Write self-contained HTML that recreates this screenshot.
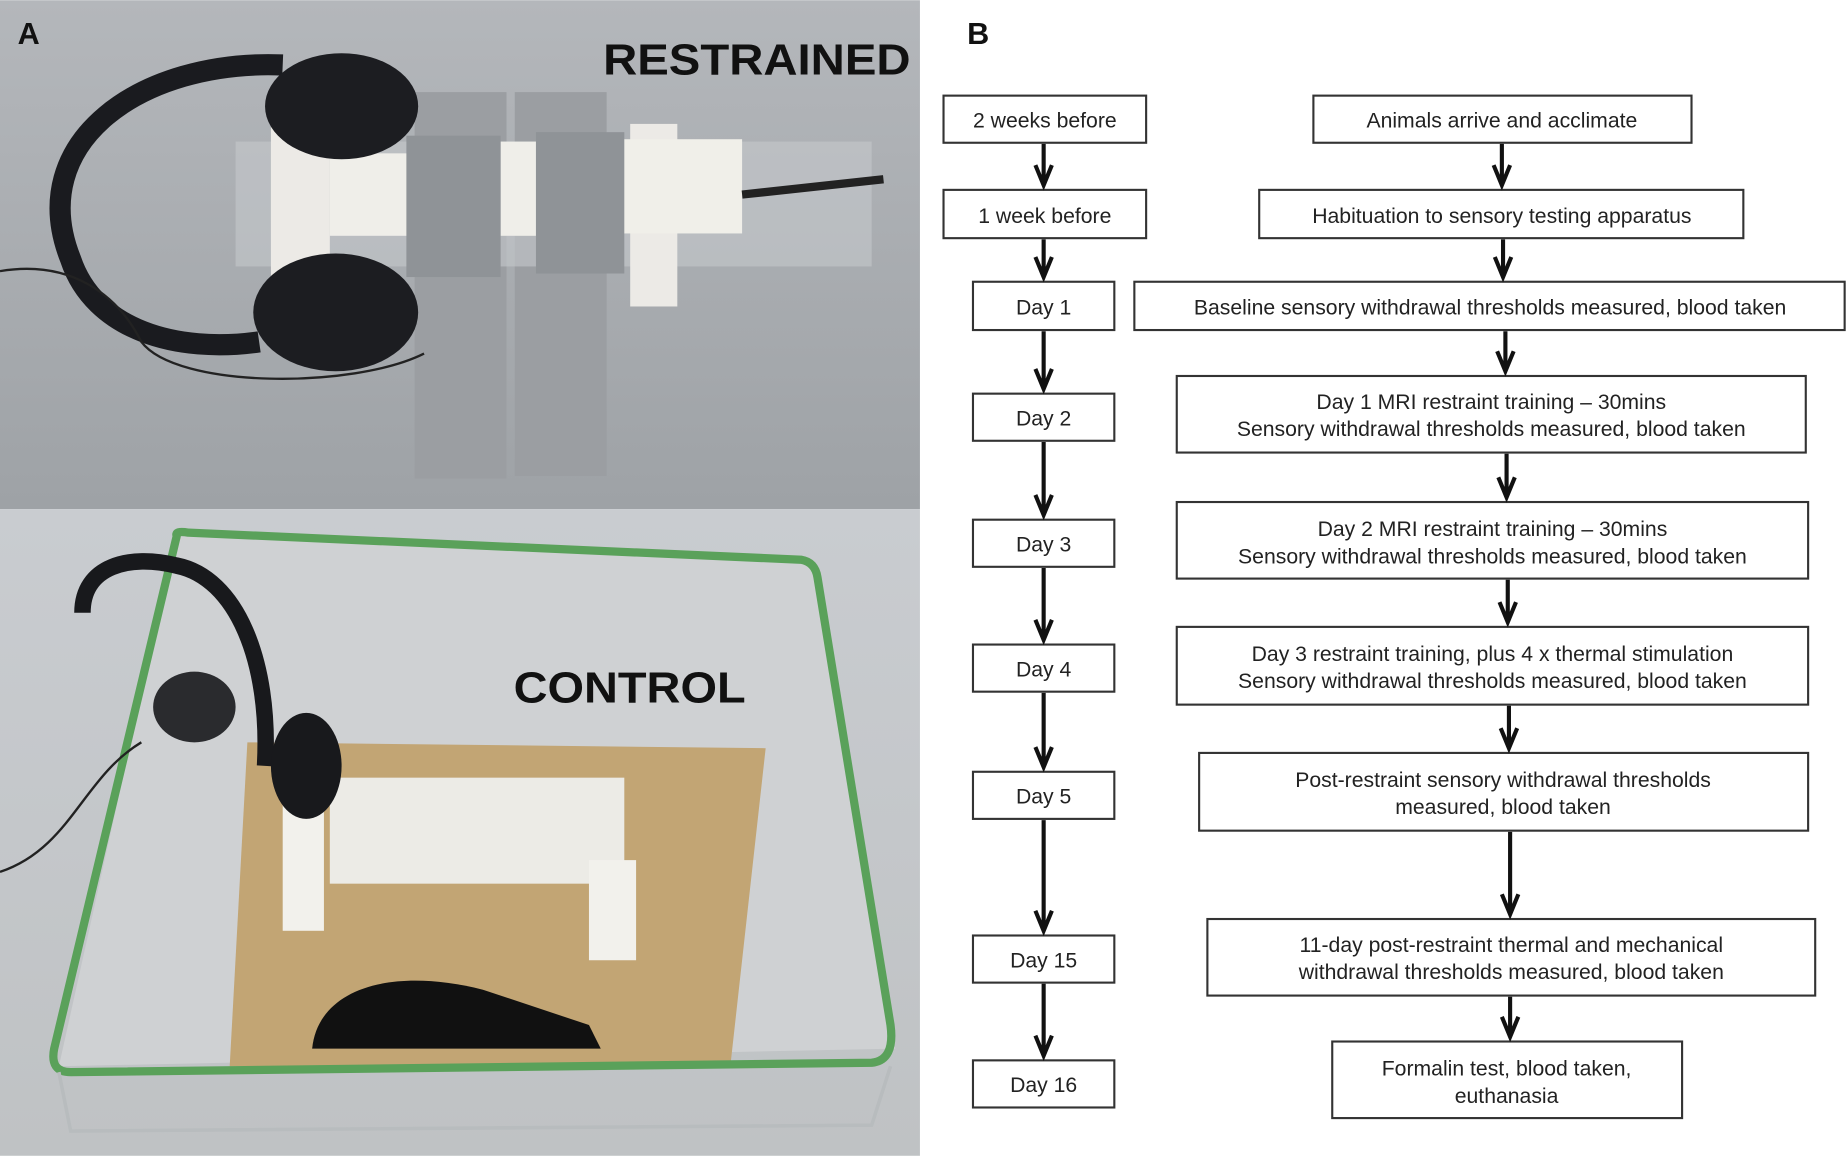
<!DOCTYPE html>
<html><head><meta charset="utf-8"><style>
html,body{margin:0;padding:0;background:#fff}
svg{display:block}
text{font-family:"Liberation Sans",Arial,sans-serif}
</style></head><body>
<svg width="1847" height="1156" viewBox="0 0 1568 981" xmlns="http://www.w3.org/2000/svg">
<defs>
<linearGradient id="g1" x1="0" y1="0" x2="0" y2="1"><stop offset="0" stop-color="#b4b7bb"/><stop offset="1" stop-color="#9ea2a6"/></linearGradient>
<linearGradient id="g2" x1="0" y1="0" x2="0" y2="1"><stop offset="0" stop-color="#c9ccd0"/><stop offset="1" stop-color="#bfc2c4"/></linearGradient>
</defs>
<!-- Photo A top -->
<rect x="0" y="0" width="781" height="432" fill="url(#g1)"/>
<rect x="352" y="78" width="78" height="328" fill="#9b9ea2"/>
<rect x="437" y="78" width="78" height="326" fill="#9b9ea2"/>
<rect x="200" y="120" width="540" height="106" fill="#c4c8cc" opacity="0.6"/>
<rect x="230" y="100" width="50" height="160" fill="#eceae6"/>
<rect x="535" y="105" width="40" height="155" fill="#eceae6"/>
<rect x="280" y="130" width="70" height="70" fill="#efeee9"/>
<rect x="425" y="120" width="30" height="80" fill="#efeee9"/>
<rect x="520" y="118" width="110" height="80" fill="#f0efe9"/>
<rect x="345" y="115" width="80" height="120" fill="#8f9397"/>
<rect x="455" y="112" width="75" height="120" fill="#8f9397"/>
<path d="M630,165 L750,152" stroke="#222" stroke-width="7"/>
<path d="M240,55 C120,50 20,120 60,220 C80,280 150,300 220,290" fill="none" stroke="#1a1b1f" stroke-width="18"/>
<ellipse cx="290" cy="90" rx="65" ry="45" fill="#1c1d21"/>
<ellipse cx="285" cy="265" rx="70" ry="50" fill="#1c1d21"/>
<path d="M0,230 C60,220 100,250 120,290 C150,330 300,330 360,300" fill="none" stroke="#222" stroke-width="2"/>
<text x="15" y="37" font-size="26" font-weight="bold" fill="#111">A</text>
<text x="512" y="63" font-size="37" font-weight="bold" fill="#111" textLength="261" lengthAdjust="spacingAndGlyphs">RESTRAINED</text>
<!-- Photo A bottom -->
<rect x="0" y="432" width="781" height="549" fill="url(#g2)"/>
<path d="M150,455 L690,478 L760,890 L50,905 Z" fill="#cfd1d3"/>
<path d="M210,630 L650,635 L620,905 L195,905 Z" fill="#c2a574"/>
<path d="M265,890 C270,840 330,820 410,840 L500,870 L510,890 Z" fill="#111"/>
<rect x="280" y="660" width="250" height="90" fill="#ecebe6"/>
<rect x="240" y="660" width="35" height="130" fill="#f2f1ec"/>
<rect x="500" y="730" width="40" height="85" fill="#f2f1ec"/>
<path d="M150,455 Q148,450 160,452 L680,475 Q692,477 694,490 L756,870 Q760,900 740,902 L60,910 Q42,910 46,890 Z" fill="none" stroke="#5aa15a" stroke-width="7"/>
<path d="M50,910 L60,960 L740,955 L756,905" fill="none" stroke="#b8bcbe" stroke-width="3"/>
<path d="M70,520 C70,480 110,470 150,480 C200,490 230,560 225,650" fill="none" stroke="#18191c" stroke-width="14"/>
<ellipse cx="260" cy="650" rx="30" ry="45" fill="#18191c"/>
<ellipse cx="165" cy="600" rx="35" ry="30" fill="#2a2b2e"/>
<path d="M0,740 C60,720 70,660 120,630" fill="none" stroke="#222" stroke-width="2"/>
<text x="436" y="596" font-size="37" font-weight="bold" fill="#111" textLength="197" lengthAdjust="spacingAndGlyphs">CONTROL</text>
<rect x="781" y="0" width="787" height="981" fill="#fff"/>
<!-- Panel B -->
<text x="821" y="37" font-size="26" font-weight="bold" fill="#111">B</text>
<g fill="#fff" stroke="#333" stroke-width="1.8">
<rect x="801" y="81" width="172" height="40"/>
<rect x="801" y="161" width="172" height="41"/>
<rect x="826" y="239" width="120" height="41"/>
<rect x="826" y="334" width="120" height="40"/>
<rect x="826" y="441" width="120" height="40"/>
<rect x="826" y="547" width="120" height="40"/>
<rect x="826" y="655" width="120" height="40"/>
<rect x="826" y="794" width="120" height="40"/>
<rect x="826" y="900" width="120" height="40"/>
<rect x="1115" y="81" width="321" height="40"/>
<rect x="1069" y="161" width="411" height="41"/>
<rect x="963" y="239" width="603" height="41"/>
<rect x="999" y="319" width="534" height="65"/>
<rect x="999" y="426" width="536" height="65"/>
<rect x="999" y="532" width="536" height="66"/>
<rect x="1018" y="639" width="517" height="66"/>
<rect x="1025" y="780" width="516" height="65"/>
<rect x="1131" y="884" width="297" height="65"/>
</g>
<g stroke="#111" stroke-width="3.5" fill="none" stroke-linejoin="miter">
<path d="M886,122 V157 M879,140 L886,157 L893,140"/>
<path d="M886,203 V235 M879,218 L886,235 L893,218"/>
<path d="M886,281 V330 M879,313 L886,330 L893,313"/>
<path d="M886,375 V437 M879,420 L886,437 L893,420"/>
<path d="M886,482 V543 M879,526 L886,543 L893,526"/>
<path d="M886,588 V651 M879,634 L886,651 L893,634"/>
<path d="M886,696 V790 M879,773 L886,790 L893,773"/>
<path d="M886,835 V896 M879,879 L886,896 L893,879"/>
<path d="M1275,122 V157 M1268,140 L1275,157 L1282,140"/>
<path d="M1276,203 V235 M1269,218 L1276,235 L1283,218"/>
<path d="M1278,281 V315 M1271,298 L1278,315 L1285,298"/>
<path d="M1279,385 V422 M1272,405 L1279,422 L1286,405"/>
<path d="M1280,492 V528 M1273,511 L1280,528 L1287,511"/>
<path d="M1281,599 V635 M1274,618 L1281,635 L1288,618"/>
<path d="M1282,706 V776 M1275,759 L1282,776 L1289,759"/>
<path d="M1282,846 V880 M1275,863 L1282,880 L1289,863"/>
</g>
<g font-size="18" fill="#222" text-anchor="middle">
<text x="887" y="108">2 weeks before</text>
<text x="887" y="189">1 week before</text>
<text x="886" y="267">Day 1</text>
<text x="886" y="361">Day 2</text>
<text x="886" y="468">Day 3</text>
<text x="886" y="574">Day 4</text>
<text x="886" y="682">Day 5</text>
<text x="886" y="821">Day 15</text>
<text x="886" y="927">Day 16</text>
<text x="1275" y="108">Animals arrive and acclimate</text>
<text x="1275" y="189">Habituation to sensory testing apparatus</text>
<text x="1265" y="267">Baseline sensory withdrawal thresholds measured, blood taken</text>
<text x="1266" y="347">Day 1 MRI restraint training – 30mins</text>
<text x="1266" y="370">Sensory withdrawal thresholds measured, blood taken</text>
<text x="1267" y="455">Day 2 MRI restraint training – 30mins</text>
<text x="1267" y="478">Sensory withdrawal thresholds measured, blood taken</text>
<text x="1267" y="561">Day 3 restraint training, plus 4 x thermal stimulation</text>
<text x="1267" y="584">Sensory withdrawal thresholds measured, blood taken</text>
<text x="1276" y="668">Post-restraint sensory withdrawal thresholds</text>
<text x="1276" y="691">measured, blood taken</text>
<text x="1283" y="808">11-day post-restraint thermal and mechanical</text>
<text x="1283" y="831">withdrawal thresholds measured, blood taken</text>
<text x="1279" y="913">Formalin test, blood taken,</text>
<text x="1279" y="936">euthanasia</text>
</g>
</svg>
</body></html>
